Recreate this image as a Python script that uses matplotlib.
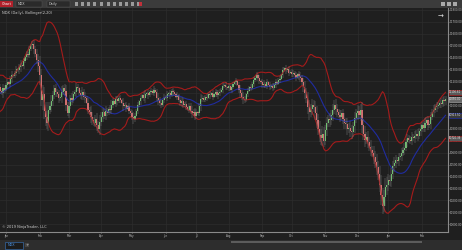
import numpy as np
import pandas as pd
import matplotlib
matplotlib.use("Agg")
import matplotlib.pyplot as plt
from matplotlib.patches import Rectangle

# daily closes from late Nov 2017 to Feb 2019 (the first 20 bars only feed the bands)
closes = [
    10980, 11020, 10990, 10950, 10970, 11010, 11060, 11040, 11090, 11120,
    11100, 11150, 11180, 11160, 11200, 11170, 11140, 11160, 11190, 11150,
    11120, 11100, 11140, 11130, 11170, 11190, 11180, 11220, 11250, 11240,
    11270, 11300, 11290, 11320, 11340, 11330, 11370, 11400, 11430, 11420,
    11470, 11500, 11510, 11470, 11430, 11380, 11330, 11250, 11040, 11090,
    10950, 10900, 10850, 10960, 10990, 11030, 11080, 11140, 11110, 11090,
    11060, 11070, 11110, 11140, 11120, 11000, 10930, 10990, 11060, 11040,
    11090, 11110, 11150, 11140, 11100, 11080, 11110, 11070, 11060, 11020,
    10960, 10940, 10900, 10870, 10850, 10880, 10830, 10800, 10860, 10900,
    10940, 10910, 10950, 10930, 10970, 10960, 11000, 11030, 11010, 11050,
    11030, 11060, 11040, 11020, 10990, 11000, 10970, 10990, 10950, 10930,
    10900, 10880, 10910, 10950, 11000, 11030, 11060, 11080, 11060, 11090,
    11100, 11080, 11110, 11120, 11100, 11130, 11110, 11060, 11040, 11020,
    11000, 11040, 11070, 11060, 11090, 11100, 11080, 11120, 11110, 11090,
    11070, 11080, 11040, 11020, 11030, 11000, 11010, 10980, 10960, 10990,
    10950, 10930, 10940, 10910, 10940, 10930, 10990, 11050, 11060, 11040,
    11070, 11060, 11090, 11080, 11100, 11070, 11090, 11110, 11080, 11100,
    11110, 11130, 11160, 11170, 11150, 11140, 11160, 11130, 11150, 11180,
    11190, 11200, 11170, 11130, 11100, 11070, 11050, 11040, 11090, 11120,
    11150, 11140, 11180, 11210, 11230, 11250, 11230, 11200, 11190, 11170,
    11180, 11160, 11190, 11170, 11150, 11160, 11140, 11170, 11190, 11180,
    11210, 11220, 11250, 11290, 11310, 11290, 11300, 11270, 11280, 11260,
    11270, 11250, 11230, 11260, 11240, 11230, 11190, 11150, 11100, 11060,
    10980, 10940, 10970, 11000, 10980, 10930, 10870, 10800, 10750, 10720,
    10760, 10700, 10790, 10850, 10880, 10870, 10920, 10960, 11000, 10970,
    10940, 10920, 10900, 10930, 10880, 10850, 10840, 10800, 10810, 10780,
    10770, 10820, 10890, 10930, 10950, 10920, 10960, 10830, 10760, 10710,
    10730, 10690, 10650, 10620, 10600, 10560, 10520, 10480, 10420, 10330,
    10240, 10150, 10230, 10310, 10330, 10370, 10360, 10420, 10490, 10510,
    10540, 10530, 10560, 10570, 10600, 10620, 10640, 10690, 10720, 10710,
    10700, 10730, 10720, 10740, 10760, 10740, 10780, 10800, 10830, 10810,
    10850, 10870, 10830, 10840, 10900, 10940, 10960, 10980, 10990, 11000,
    11020, 11010, 11040, 11030, 11050,
]

# shadow length of each bar, in units of 13 points
wicks = (
    "2121321212" "1232121312" "2132121231" "1212312121" "2123234646"
    "5645343232" "3242342323" "2132123231" "3243234343" "3232123212"
    "2121312121" "2321212123" "1212121232" "2121212121" "1212321212"
    "2323212321" "1212121212" "2121212121" "1212323212" "1212121212"
    "2121212121" "1212121212" "2121232343" "4534345454" "5434343434"
    "3232343434" "4343434545" "3434344545" "6546543434" "3232323232"
    "2323232323" "3232323232" "23232"
)

price_ticks = list(range(10000, 11801, 100))
first_day = "2017-11-28"
first_shown = 20
title = "NDX (Daily), Bollinger(2,20)"

BG = "#1f1f1f"
GRID = "#2d2d2d"
TXT = "#bcbcbc"
UP = "#6fd46f"
DOWN = "#f26c6c"
BAND = "#a51b1b"
MID = "#1f2ca0"

c = np.array(closes, dtype=float)
o = np.r_[c[0], c[:-1]]
w = np.array([int(ch) for ch in wicks]) * 13.0
hi = np.maximum(o, c) + w
lo = np.minimum(o, c) - w
idx = np.arange(len(c))
dates = pd.bdate_range(first_day, periods=len(c))

s = pd.Series(c)
mid = s.rolling(20).mean()
sd = s.rolling(20).std(ddof=0)
upper = mid + 2 * sd
lower = mid - 2 * sd

fig = plt.figure(figsize=(4.62, 2.5), dpi=100, facecolor=BG)


def fx(x):
    return x / 462


def fy(y):
    return 1 - y / 250


ax = fig.add_axes([0, fy(232), fx(448), fy(8) - fy(232)])
ax.set_facecolor(BG)

# grid
month_pos = [i for i in range(first_shown, len(dates)) if dates[i].month != dates[i - 1].month]
month_lab = [dates[i].strftime("%b") for i in month_pos]
ax.set_xticks(month_pos)
ax.set_xticklabels(month_lab)
ax.set_yticks(price_ticks)
ax.set_yticklabels([f"{p:.2f}" for p in price_ticks])
ax.grid(True, color=GRID, lw=0.5)
ax.set_axisbelow(True)
ax.yaxis.tick_right()
ax.tick_params(axis="both", labelsize=2.0, colors=TXT, length=1.0, width=0.4, pad=0.6)
for side in ("left", "top"):
    ax.spines[side].set_visible(False)
for side in ("right", "bottom"):
    ax.spines[side].set_color("#8a8a8a")
    ax.spines[side].set_linewidth(0.8)

# bands
ax.plot(idx, upper, color=BAND, lw=0.8)
ax.plot(idx, lower, color=BAND, lw=0.8)
ax.plot(idx, mid, color=MID, lw=0.8)

# candles
up = c >= o
flat = np.abs(c - o) < 8
body = np.where(flat, 8, np.abs(c - o))
ax.vlines(idx, lo, hi, color="#7a7a7a", lw=0.35)
ax.bar(idx, body, bottom=np.minimum(o, c), width=0.8,
       color=np.where(up, UP, DOWN), edgecolor="none", antialiased=False)

ax.set_xlim(19.9, 325.7)
ax.set_ylim(9933, 11815)

# last values on the price axis
last = len(c) - 1
for val, fc, ec in [(upper[last], "#5a5a5a", BAND), (c[last], "#6a6a6a", "#999999"),
                    (mid[last], "#3a3a3a", MID), (lower[last], "#5a5a5a", BAND)]:
    ax.annotate(f"{val:.2f}", xy=(1, val), xycoords=("axes fraction", "data"),
                xytext=(0.8, 0), textcoords="offset points", fontsize=1.9, color="#e8e8e8",
                va="center", ha="left",
                bbox=dict(boxstyle="square,pad=0.2", fc=fc, ec=ec, lw=0.5))

ax.text(0.004, 0.985, title, transform=ax.transAxes, fontsize=2.6, color="#cfcfcf", va="top")
ax.text(0.004, 0.012, "© 2019 NinjaTrader, LLC", transform=ax.transAxes, fontsize=2.6,
        color="#cfcfcf", va="bottom")
ax.text(0.99, 0.975, "→", transform=ax.transAxes, fontsize=5, color="#e0e0e0",
        va="top", ha="right")

# toolbar on top
fig.patches.append(Rectangle((0, fy(7.5)), 1, 7.5 / 250, transform=fig.transFigure,
                             fc="#3b3b3b", ec="none"))
fig.patches.append(Rectangle((fx(0), fy(7)), fx(13), 6 / 250, transform=fig.transFigure,
                             fc="#b0202a", ec="none"))
fig.text(fx(6.5), fy(4), "Chart", fontsize=2.6, color="white", ha="center", va="center")
for x0, x1, lab in [(16, 42, "NDX"), (47, 70, "Daily")]:
    fig.patches.append(Rectangle((fx(x0), fy(6.5)), fx(x1 - x0), 5 / 250,
                                 transform=fig.transFigure, fc="#2a2a2a", ec="#555555", lw=0.3))
    fig.text(fx(x0 + 2), fy(4), lab, fontsize=2.4, color="#c8c8c8", va="center")
for x in [75, 81, 87, 93, 100, 107, 113, 119, 125, 131, 137]:
    fig.patches.append(Rectangle((fx(x), fy(5.5)), fx(3), 3 / 250, transform=fig.transFigure,
                                 fc="#9a9a9a", ec="none"))
fig.patches.append(Rectangle((fx(139), fy(5.5)), fx(3), 3 / 250, transform=fig.transFigure,
                             fc="#c0303a", ec="none"))
for x in [441, 447, 453]:
    fig.patches.append(Rectangle((fx(x), fy(5.5)), fx(3.5), 3 / 250, transform=fig.transFigure,
                                 fc="#aaaaaa", ec="none"))

# bottom tab strip and scroll bar
fig.patches.append(Rectangle((0, 0), 1, fy(239.5), transform=fig.transFigure,
                             fc="#2d2d2d", ec="none"))
fig.patches.append(Rectangle((fx(231), fy(242.5)), fx(422 - 231), 2 / 250,
                             transform=fig.transFigure, fc="#5c5c5c", ec="none"))
fig.patches.append(Rectangle((fx(5), fy(248.5)), fx(18), 7 / 250, transform=fig.transFigure,
                             fc="#1c1c1c", ec="#3b78c0", lw=0.4))
fig.text(fx(8), fy(245), "NDX", fontsize=2.4, color="#4a90e0", va="center")
fig.patches.append(Rectangle((fx(25), fy(247)), fx(4), 4 / 250, transform=fig.transFigure,
                             fc="#444444", ec="none"))
fig.text(fx(27), fy(245), "+", fontsize=3, color="#cccccc", ha="center", va="center")

fig.savefig("out.png", dpi=100, facecolor=fig.get_facecolor())
